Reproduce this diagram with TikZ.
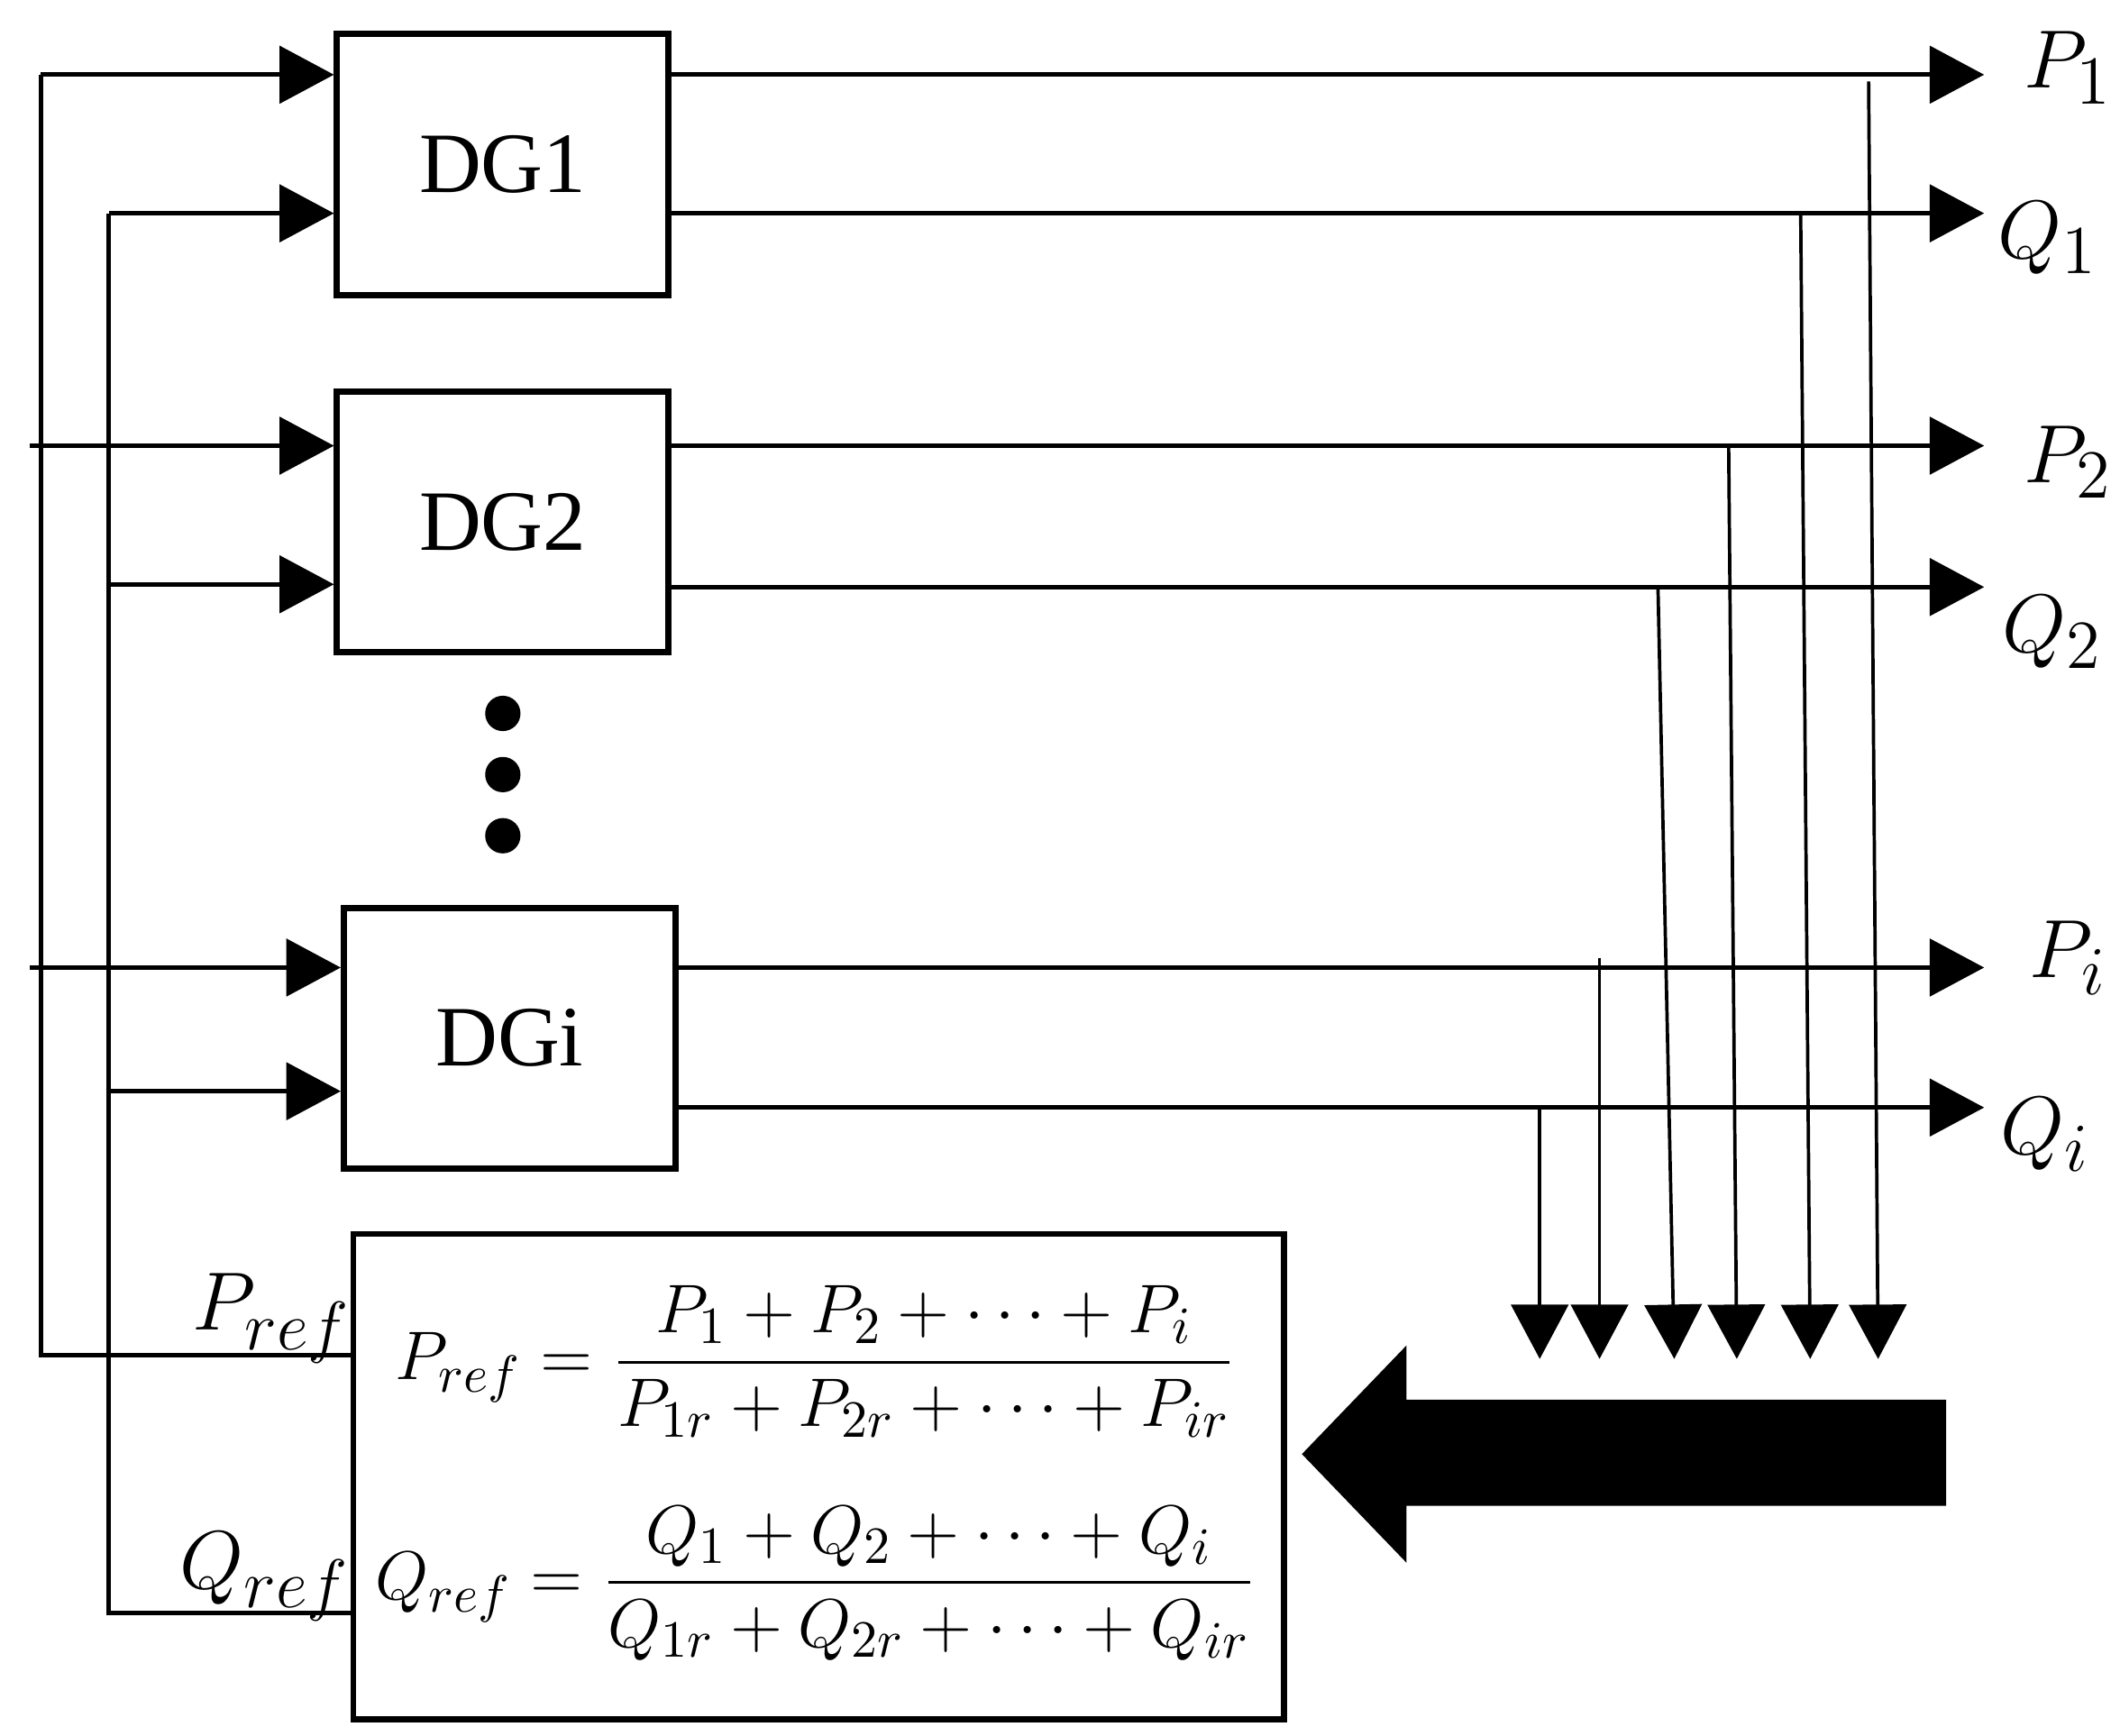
\documentclass[tikz,border=0pt]{standalone}
\usepackage{amsmath}
\usepackage{fontspec}
\setmainfont{Liberation Serif}
\usetikzlibrary{arrows.meta, positioning}
\tikzstyle{dgbox} = [rectangle, draw, line width=1.3pt, minimum width=2.44cm, minimum height=1.92cm, font=\fontsize{18}{20}\selectfont]
\tikzstyle{arrow} = [-{Triangle[length=4mm,width=4.2mm]}, line width=0.9pt]
\tikzstyle{tap}   = [-{Triangle[length=4mm,width=4.2mm]}, line width=0.7pt]
\tikzstyle{sig}   = [font=\fontsize{19}{22}\selectfont]

\begin{document}
\begin{tikzpicture}
    \useasboundingbox (0,0) rectangle (15.6,12.77);
    \node (dg1) [dgbox] at (3.70,11.56) {DG1};
    \node (dg2) [dgbox] at (3.70,8.93) {DG2};
    \node (dgi) [dgbox] at (3.75,5.13) {DGi};
    \node (calc) [rectangle, draw, line width=1.3pt, minimum width=6.85cm, minimum height=3.57cm] at (6.025,1.905) {};

    % dots between DG2 and DGi
    \foreach \yy in {7.52,7.07,6.62}
        \fill (3.70,\yy) circle (0.13);

    % reference buses
    \coordinate (prefin) at (calc.west |- 0,2.80);
    \coordinate (qrefin) at (calc.west |- 0,0.90);
    \coordinate (pbus) at (0.30,12.22);
    \coordinate (qbus) at (0.80,11.20);
    \draw [line width=0.9pt] (prefin) -| (pbus);
    \draw [line width=0.9pt] (qrefin) -| (qbus);
    \draw [arrow] (pbus) -- (pbus -| dg1.west);
    \draw [arrow] (qbus) -- (qbus -| dg1.west);
    \draw [arrow] (0.22,9.49) -- (dg2.west |- 0,9.49);
    \draw [arrow] (0.80,8.47) -- (dg2.west |- 0,8.47);
    \draw [arrow] (0.22,5.65) -- (dgi.west |- 0,5.65);
    \draw [arrow] (0.78,4.74) -- (dgi.west |- 0,4.74);

    % outputs
    \coordinate (p1) at (14.60,12.22);
    \coordinate (q1) at (14.60,11.20);
    \coordinate (p2) at (14.60,9.49);
    \coordinate (q2) at (14.60,8.45);
    \coordinate (pi) at (14.60,5.65);
    \coordinate (qi) at (14.60,4.62);
    \draw [arrow] (dg1.east |- p1) -- (p1);
    \draw [arrow] (dg1.east |- q1) -- (q1);
    \draw [arrow] (dg2.east |- p2) -- (p2);
    \draw [arrow] (dg2.east |- q2) -- (q2);
    \draw [arrow] (dgi.east |- pi) -- (pi);
    \draw [arrow] (dgi.east |- qi) -- (qi);
    \node [sig] at (15.22,12.27) {$P_1$};
    \node [sig] at (15.07,11.02) {$Q_1$};
    \node [sig] at (15.22,9.37) {$P_2$};
    \node [sig] at (15.10,8.12) {$Q_2$};
    \node [sig] at (15.22,5.72) {$P_i$};
    \node [sig] at (15.05,4.42) {$Q_i$};

    % taps down to the aggregator
    \draw [tap] (13.75,12.17) -- (13.82,2.77);
    \draw [tap] (13.25,11.20) -- (13.32,2.77);
    \draw [tap] (12.72,9.49) -- (12.78,2.77);
    \draw [tap] (12.20,8.45) -- (12.32,2.77);
    \draw [tap] (11.77,5.72) -- (11.77,2.77);
    \draw [tap] (11.33,4.62) -- (11.33,2.77);

    % big feedback arrow
    \fill (14.32,2.47) -- (10.35,2.47) -- (10.35,2.87) -- (9.58,2.07) -- (10.35,1.27)
        -- (10.35,1.69) -- (14.32,1.69) -- cycle;

    \node [sig] at (2.00,3.07) {$P_{ref}$};
    \node [sig] at (1.95,1.17) {$Q_{ref}$};
    \node [font=\fontsize{15}{18}\selectfont] at (6.00,2.75)
        {$P_{ref}=\dfrac{P_1+P_2+\cdots+P_i}{P_{1r}+P_{2r}+\cdots+P_{ir}}$};
    \node [font=\fontsize{15}{18}\selectfont] at (6.00,1.12)
        {$Q_{ref}=\dfrac{Q_1+Q_2+\cdots+Q_i}{Q_{1r}+Q_{2r}+\cdots+Q_{ir}}$};
\end{tikzpicture}
\end{document}
